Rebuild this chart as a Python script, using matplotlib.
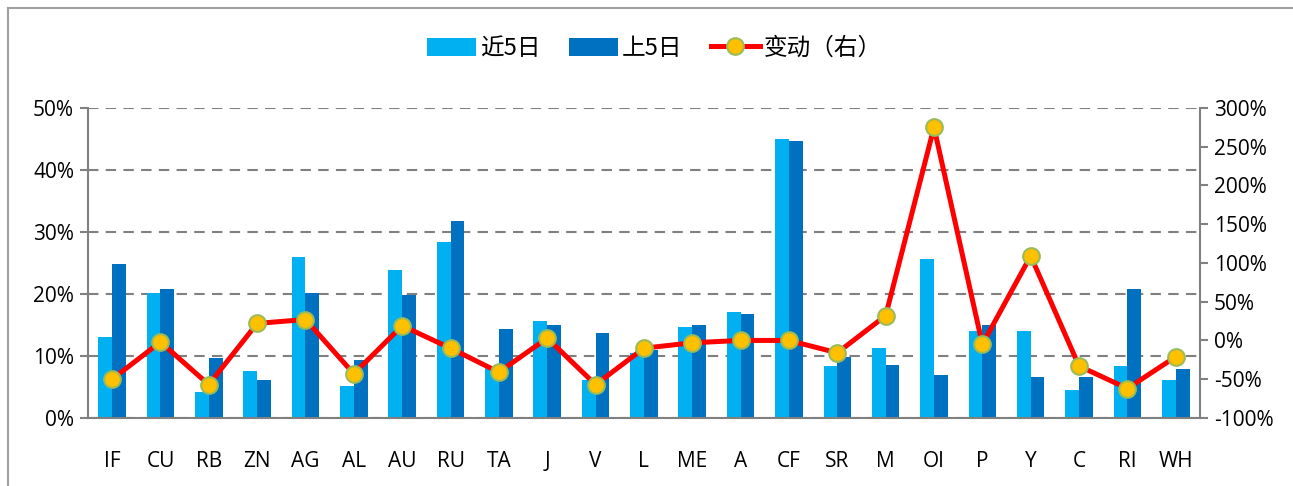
import numpy as np
import matplotlib.pyplot as plt
from matplotlib.lines import Line2D
from matplotlib.ticker import FuncFormatter

plt.rcParams['font.family'] = ['Open Sans', 'Noto Sans CJK SC', 'DejaVu Sans']

# data
products = ["IF", "CU", "RB", "ZN", "AG", "AL", "AU", "RU", "TA", "J", "V", "L",
            "ME", "A", "CF", "SR", "M", "OI", "P", "Y", "C", "RI", "WH"]
recent5 = [13.0, 20.2, 4.2, 7.5, 25.9, 5.2, 23.9, 28.3, 8.1, 15.7, 6.2, 10.5,
           14.7, 17.1, 45.0, 8.3, 11.3, 25.6, 14.1, 14.1, 4.5, 8.3, 6.2]
prev5 = [24.9, 20.8, 9.6, 6.2, 20.2, 9.3, 19.9, 31.7, 14.3, 15.0, 13.7, 11.0,
         15.0, 16.7, 44.7, 9.9, 8.6, 6.9, 15.0, 6.6, 6.6, 20.8, 7.9]
change = [-50, -2, -57, 22, 27, -43, 19, -10, -41, 3, -57, -10,
          -3, 0, 0, -16, 32, 275, -5, 109, -33, -62, -21]

light = "#00B0F0"
dark = "#0070C0"
grey = "#808080"

fig = plt.figure(figsize=(12.93, 4.86), dpi=100)
# outer chart frame: only left and top edges are visible in the reference
fx, fy = 7.5 / 1293, 1 - 8 / 486
fig.lines.append(Line2D([fx, fx], [0, fy], transform=fig.transFigure, color="#A0A0A0", lw=1.5))
fig.lines.append(Line2D([fx, 1], [fy, fy], transform=fig.transFigure, color="#A0A0A0", lw=1.5))

ax = fig.add_axes([0.068, 0.140, 0.860, 0.638])
x = np.arange(len(products))
w = 0.285
b1 = ax.bar(x - w / 2, recent5, w, color=light, label="近5日", zorder=2)
b2 = ax.bar(x + w / 2, prev5, w, color=dark, label="上5日", zorder=2)

ax.set_ylim(0, 50)
ax.set_yticks(np.arange(0, 51, 10))
ax.yaxis.set_major_formatter(FuncFormatter(lambda v, p: f"{v:.0f}%"))
ax.set_xlim(-0.5, len(products) - 0.5)
ax.set_xticks(x)
ax.set_xticklabels(products)
ax.grid(axis="y", linestyle=(0, (5, 3.5)), color=grey, linewidth=1.5, zorder=0)
for s in ["top", "right"]:
    ax.spines[s].set_visible(False)
for s in ["left", "bottom"]:
    ax.spines[s].set_color(grey)
    ax.spines[s].set_linewidth(1.5)
ax.tick_params(axis="y", length=6, color=grey, width=1.5, labelsize=15, pad=4)
ax.tick_params(axis="x", length=0, labelsize=15, pad=24)

ax2 = ax.twinx()
ln, = ax2.plot(x, change, color="red", linewidth=3.6, marker="o", markersize=12,
               markerfacecolor="#FFC000", markeredgecolor="#9BBB59", markeredgewidth=1.5,
               label="变动（右）", zorder=3)
ax2.set_ylim(-100, 300)
ax2.set_yticks(np.arange(-100, 301, 50))
ax2.yaxis.set_major_formatter(FuncFormatter(lambda v, p: f"{v:.0f}%"))
for s in ["top", "left", "bottom"]:
    ax2.spines[s].set_visible(False)
ax2.spines["right"].set_color(grey)
ax2.spines["right"].set_linewidth(1.5)
ax2.tick_params(axis="y", length=6, color=grey, width=1.5, labelsize=15, pad=4)

fig.legend(handles=[b1, b2, ln], loc="center", bbox_to_anchor=(0.506, 0.9), ncol=3,
           frameon=False, handlelength=2.1, handleheight=0.8,
           columnspacing=1.2, handletextpad=0.15,
           prop={"family": ["Noto Sans CJK SC", "DejaVu Sans"], "size": 17})

fig.savefig("out.png", dpi=100)
